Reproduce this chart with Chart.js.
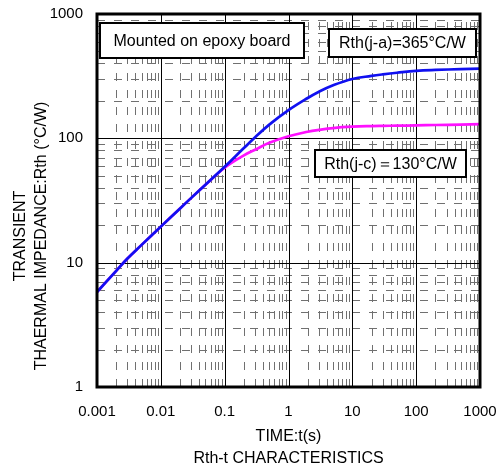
<!DOCTYPE html>
<html>
<head>
<meta charset="utf-8">
<script src="https://cdn.jsdelivr.net/npm/chart.js@4/dist/chart.umd.min.js"></script>
<style>
  html, body { margin: 0; padding: 0; background: #fff; }
  #wrap { width: 502px; height: 470px; position: relative; }
</style>
</head>
<body>
<div id="wrap"><canvas id="chart"></canvas></div>
<script>
// --- Données ---
const times = [0.001, 0.002, 0.003, 0.005, 0.01, 0.02, 0.03, 0.05, 0.1, 0.2, 0.3, 0.5,
               1, 2, 3, 5, 10, 20, 30, 50, 100, 200, 500, 1000];
const rthJA = [5.8, 8.6, 10.8, 13.9, 19.5, 27.3, 33.2, 42.3, 59, 83.5, 102, 129,
               168.5, 211, 237, 267, 300, 318, 327, 337, 349, 355, 360, 364];
const rthJC = [5.8, 8.6, 10.8, 13.9, 19.5, 27.3, 33.2, 42.3, 58, 73, 81, 92,
               104, 113, 117, 121, 124, 125.5, 126, 126.5, 127, 128, 129, 130];

const xTickValues = [0.001, 0.01, 0.1, 1, 10, 100, 1000];
const xTickLabels = ['0.001', '0.01', '0.1', '1', '10', '100', '1000'];
const yTickValues = [1, 10, 100, 1000];
const yTickLabels = ['1', '10', '100', '1000'];

const FONT = '"Liberation Sans", Arial, sans-serif';

// Quadrillage log : décades en trait plein, sous-divisions en tirets gris
const gridPlugin = {
    id: 'logGrid',
    beforeDatasetsDraw(chart) {
        const { ctx, chartArea: a, scales: { x, y } } = chart;
        ctx.save();
        ctx.lineWidth = 1;
        ctx.strokeStyle = '#707070';
        ctx.setLineDash([8, 9]);
        xTickValues.slice(0, -1).forEach(d => {
            for (let k = 2; k <= 9; k++) {
                const px = Math.round(x.getPixelForValue(d * k)) + 0.5;
                ctx.beginPath(); ctx.moveTo(px, a.bottom); ctx.lineTo(px, a.top); ctx.stroke();
            }
        });
        yTickValues.slice(0, -1).forEach(d => {
            for (let k = 2; k <= 9; k++) {
                const py = Math.round(y.getPixelForValue(d * k)) + 0.5;
                ctx.beginPath(); ctx.moveTo(a.left, py); ctx.lineTo(a.right, py); ctx.stroke();
            }
        });
        ctx.setLineDash([]);
        ctx.strokeStyle = '#000';
        xTickValues.forEach(v => {
            const px = Math.round(x.getPixelForValue(v)) + 0.5;
            ctx.beginPath(); ctx.moveTo(px, a.top); ctx.lineTo(px, a.bottom); ctx.stroke();
        });
        yTickValues.forEach(v => {
            const py = Math.round(y.getPixelForValue(v)) + 0.5;
            ctx.beginPath(); ctx.moveTo(a.left, py); ctx.lineTo(a.right, py); ctx.stroke();
        });
        ctx.restore();
    },
    afterDatasetsDraw(chart) {
        const { ctx, chartArea: a } = chart;
        ctx.save();
        // Cadres de légende
        const boxes = [
            { text: 'Mounted on epoxy board', x: 3, y: 9, w: 204, h: 35 },
            { text: 'Rth(j-a)=365°C/W', x: 232, y: 15, w: 147, h: 28 },
            { text: 'Rth(j-c)＝130°C/W', x: 218, y: 136, w: 151, h: 27 }
        ];
        ctx.font = '16px ' + FONT;
        ctx.textAlign = 'center';
        ctx.textBaseline = 'middle';
        boxes.forEach(b => {
            const bx = a.left + b.x, by = a.top + b.y;
            ctx.fillStyle = '#fff';
            ctx.fillRect(bx, by, b.w, b.h);
            ctx.lineWidth = 2;
            ctx.strokeStyle = '#000';
            ctx.strokeRect(bx, by, b.w, b.h);
            ctx.fillStyle = '#000';
            ctx.fillText(b.text, bx + b.w / 2, by + b.h / 2 + 1);
        });
        // Cadre du graphique
        ctx.lineWidth = 3;
        ctx.strokeRect(a.left, a.top, a.right - a.left, a.bottom - a.top);
        ctx.restore();
    },
    afterDraw(chart) {
        // Titre de l'axe Y (centré sur la hauteur totale comme l'original)
        const { ctx } = chart;
        ctx.save();
        ctx.font = '16px ' + FONT;
        ctx.fillStyle = '#000';
        ctx.textAlign = 'center';
        ctx.textBaseline = 'middle';
        ctx.translate(21, 236);
        ctx.rotate(-Math.PI / 2);
        ctx.fillText('TRANSIENT', 0, 0);
        ctx.fillText('THAERMAL IMPEDANCE:Rth (°C/W)', 0, 21);
        ctx.restore();
    }
};

// Taille fixe des axes, sans marge automatique pour les étiquettes d'extrémité
function fixX(s) { s.height = 83; s.paddingLeft = 0; s.paddingRight = 0; }
function fixY(s) { s.width = 97; s.paddingTop = 0; s.paddingBottom = 0; }

new Chart(document.getElementById('chart'), {
    type: 'line',
    data: {
        datasets: [
            {
                label: 'Rth(j-a)',
                data: times.map((t, i) => ({ x: t, y: rthJA[i] })),
                borderColor: '#1010f0',
                borderWidth: 2.7,
                pointRadius: 0,
                tension: 0.4,
                fill: false
            },
            {
                label: 'Rth(j-c)',
                data: times.map((t, i) => ({ x: t, y: rthJC[i] })),
                borderColor: '#ff10ff',
                borderWidth: 2.7,
                pointRadius: 0,
                tension: 0.4,
                fill: false
            }
        ]
    },
    options: {
        responsive: true,
        maintainAspectRatio: false,
        animation: false,
        layout: { padding: { top: 14, right: 22, left: 0, bottom: 0 } },
        plugins: {
            legend: { display: false },
            tooltip: { enabled: false }
        },
        scales: {
            x: {
                type: 'logarithmic',
                min: 0.001,
                max: 1000,
                afterBuildTicks: s => { s.ticks = xTickValues.map(v => ({ value: v })); },
                afterFit: fixX,
                grid: { display: false, drawTicks: false },
                border: { display: false },
                ticks: {
                    autoSkip: false,
                    maxRotation: 0,
                    padding: 16,
                    color: '#000',
                    font: { family: FONT, size: 15 },
                    callback: (v, i) => xTickLabels[i]
                },
                title: {
                    display: true,
                    text: ['TIME:t(s)', 'Rth-t CHARACTERISTICS'],
                    color: '#000',
                    font: { family: FONT, size: 16, lineHeight: 1.4 },
                    padding: { top: 12, bottom: 0 }
                }
            },
            y: {
                type: 'logarithmic',
                min: 1,
                max: 1000,
                afterBuildTicks: s => { s.ticks = yTickValues.map(v => ({ value: v })); },
                afterFit: fixY,
                grid: { display: false, drawTicks: false },
                border: { display: false },
                ticks: {
                    autoSkip: false,
                    padding: 14,
                    color: '#000',
                    font: { family: FONT, size: 15 },
                    callback: (v, i) => yTickLabels[i]
                }
            }
        }
    },
    plugins: [gridPlugin]
});
</script>
</body>
</html>
